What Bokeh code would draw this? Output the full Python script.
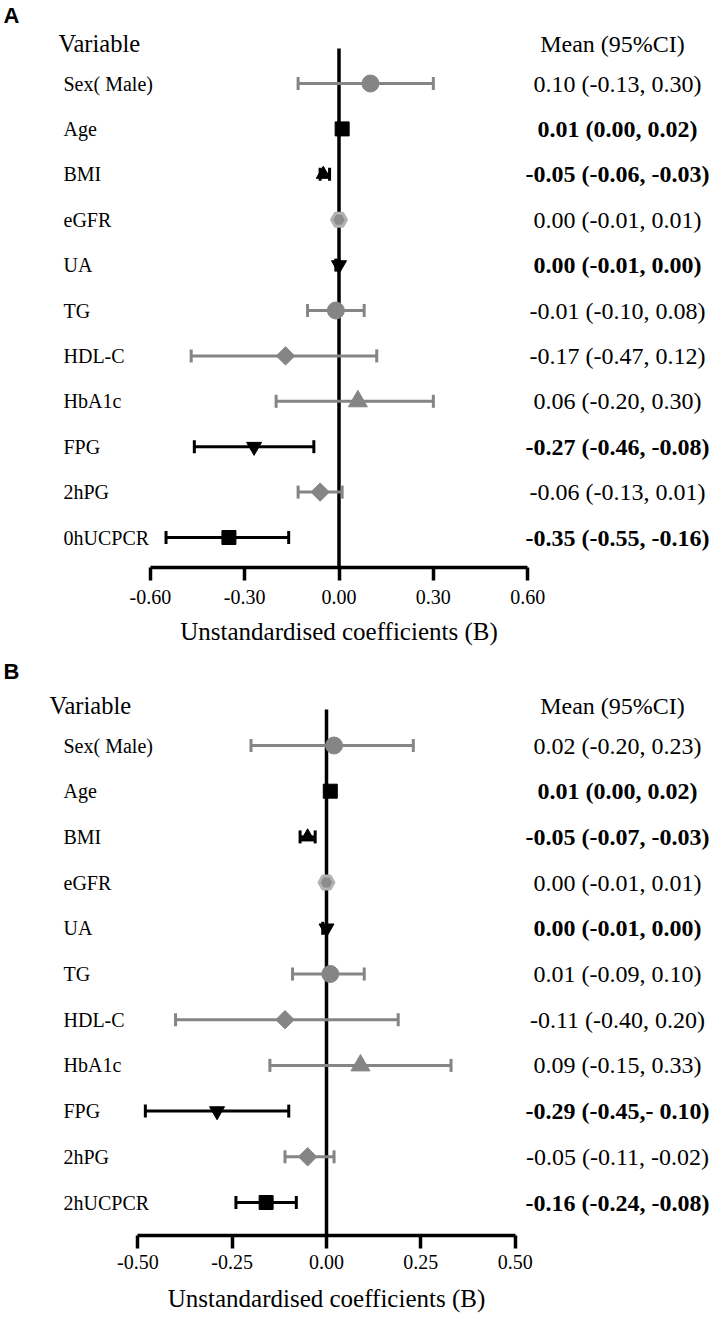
from bokeh.plotting import figure
from bokeh.models import ColumnDataSource, Range1d, LinearAxis, FixedTicker, NumeralTickFormatter
from bokeh.layouts import column
from bokeh.core.properties import value
from bokeh.embed import file_html
from bokeh.resources import INLINE

# ---------------- data ----------------
variables_a = ["Sex( Male)", "Age", "BMI", "eGFR", "UA", "TG", "HDL-C", "HbA1c", "FPG", "2hPG", "0hUCPCR"]
mean_a = [0.10, 0.01, -0.05, 0.00, 0.00, -0.01, -0.17, 0.06, -0.27, -0.06, -0.35]
lower_a = [-0.13, 0.00, -0.06, -0.01, -0.01, -0.10, -0.47, -0.20, -0.46, -0.13, -0.55]
upper_a = [0.30, 0.02, -0.03, 0.01, 0.00, 0.08, 0.12, 0.30, -0.08, 0.01, -0.16]
labels_a = ["0.10 (-0.13, 0.30)", "0.01 (0.00, 0.02)", "-0.05 (-0.06, -0.03)", "0.00 (-0.01, 0.01)",
            "0.00 (-0.01, 0.00)", "-0.01 (-0.10, 0.08)", "-0.17 (-0.47, 0.12)", "0.06 (-0.20, 0.30)",
            "-0.27 (-0.46, -0.08)", "-0.06 (-0.13, 0.01)", "-0.35 (-0.55, -0.16)"]
significant_a = [False, True, True, False, True, False, False, False, True, False, True]
ticks_a = [-0.60, -0.30, 0.00, 0.30, 0.60]

variables_b = ["Sex( Male)", "Age", "BMI", "eGFR", "UA", "TG", "HDL-C", "HbA1c", "FPG", "2hPG", "2hUCPCR"]
mean_b = [0.02, 0.01, -0.05, 0.00, 0.00, 0.01, -0.11, 0.09, -0.29, -0.05, -0.16]
lower_b = [-0.20, 0.00, -0.07, -0.01, -0.01, -0.09, -0.40, -0.15, -0.48, -0.11, -0.24]
upper_b = [0.23, 0.02, -0.03, 0.01, 0.00, 0.10, 0.19, 0.33, -0.10, 0.02, -0.08]
labels_b = ["0.02 (-0.20, 0.23)", "0.01 (0.00, 0.02)", "-0.05 (-0.07, -0.03)", "0.00 (-0.01, 0.01)",
            "0.00 (-0.01, 0.00)", "0.01 (-0.09, 0.10)", "-0.11 (-0.40, 0.20)", "0.09 (-0.15, 0.33)",
            "-0.29 (-0.45,- 0.10)", "-0.05 (-0.11, -0.02)", "-0.16 (-0.24, -0.08)"]
significant_b = [False, True, True, False, True, False, False, False, True, False, True]
ticks_b = [-0.50, -0.25, 0.00, 0.25, 0.50]

shapes = ["circle", "square", "triangle", "hex", "inverted_triangle", "circle",
          "diamond", "triangle", "inverted_triangle", "diamond", "square"]

# ---------------- style ----------------
SERIF = "Liberation Serif"
SANS = "Liberation Sans"
GRAY = "#858585"
W = 718


def marker_style(shape, sig):
    if shape == "circle":
        return "circle", 17, 0.0
    if shape == "square":
        return "square", 14, 0.0
    if shape == "triangle":
        return "triangle", (14 if sig else 19), 0.0
    if shape == "inverted_triangle":
        return "inverted_triangle", 15, 0.0
    if shape == "diamond":
        return "square", 13, 0.7853981634
    if shape == "hex":
        return "hex", 15, 0.0
    return "circle", 15, 0.0


def panel(letter, variables, means, lowers, uppers, labels, sig, ticks, height,
          zero_px, ppu, row0, step, header_px, var_px, vtop_px, axis_px,
          tick_standoff, title_standoff):
    n = len(variables)
    x_range = Range1d(-zero_px / ppu, (W - zero_px) / ppu)
    y_range = Range1d((height - row0) / step, -row0 / step)
    p = figure(width=W, height=height, x_range=x_range, y_range=y_range,
               output_backend="svg", toolbar_location=None,
               x_axis_location=None, y_axis_location=None, min_border=0)
    p.outline_line_color = None
    p.grid.visible = False
    p.background_fill_color = "white"
    p.border_fill_color = "white"

    def xd(px):
        return (px - zero_px) / ppu

    def yd(px):
        return (px - row0) / step

    rows = list(range(n))
    colors = ["black" if s else GRAY for s in sig]
    cap = 6.5 / step

    # zero reference line
    p.segment(x0=[0.0], y0=[yd(vtop_px)], x1=[0.0], y1=[yd(axis_px)], line_color="black", line_width=3.5)

    src = ColumnDataSource(dict(
        y=rows, m=means, lo=lowers, hi=uppers, c=colors,
        ylo=[r - cap for r in rows], yhi=[r + cap for r in rows],
        marker=[marker_style(s, g)[0] for s, g in zip(shapes, sig)],
        size=[marker_style(s, g)[1] for s, g in zip(shapes, sig)],
        angle=[marker_style(s, g)[2] for s, g in zip(shapes, sig)],
        fill=[("#8c8c8c" if s == "hex" else c) for s, c in zip(shapes, colors)],
        line=[("#b3b3b3" if s == "hex" else c) for s, c in zip(shapes, colors)],
        lw=[(3 if s == "hex" else 1) for s in shapes],
    ))
    p.segment(x0="lo", y0="y", x1="hi", y1="y", source=src, line_color="c", line_width=3)
    p.segment(x0="lo", y0="ylo", x1="lo", y1="yhi", source=src, line_color="c", line_width=3)
    p.segment(x0="hi", y0="ylo", x1="hi", y1="yhi", source=src, line_color="c", line_width=3)
    p.scatter(x="m", y="y", source=src, marker="marker", size="size", angle="angle",
              fill_color="fill", line_color="line", line_width="lw")

    # text columns
    tsrc = ColumnDataSource(dict(
        y=rows, var=variables, lab=labels,
        style=["bold" if s else "normal" for s in sig],
    ))
    p.text(x=xd(63), y="y", text="var", source=tsrc, text_font=value(SERIF),
           text_font_size="20px", text_baseline="middle", text_align="left", text_color="black")
    p.text(x=xd(617), y="y", text="lab", source=tsrc, text_font=value(SERIF),
           text_font_size="24px", text_baseline="middle", text_align="center",
           text_font_style="style", text_color="black")
    p.text(x=[xd(var_px)], y=[yd(header_px)], text=["Variable"], text_font=value(SERIF),
           text_font_size="24.5px", text_baseline="middle", text_align="left", text_color="black")
    p.text(x=[xd(612)], y=[yd(header_px)], text=["Mean (95%CI)"], text_font=value(SERIF),
           text_font_size="24px", text_baseline="middle", text_align="center", text_color="black")
    p.text(x=[xd(3)], y=[yd(15)], text=[letter], text_font=value(SANS), text_font_style="bold",
           text_font_size="22px", text_baseline="middle", text_align="left", text_color="black")

    ax = LinearAxis(fixed_location=yd(axis_px), bounds=(ticks[0], ticks[-1]),
                    ticker=FixedTicker(ticks=ticks, minor_ticks=[]),
                    formatter=NumeralTickFormatter(format="0.00"),
                    axis_label="Unstandardised coefficients (B)")
    ax.axis_line_width = 3.5
    ax.major_tick_line_width = 3.5
    ax.major_tick_out = 13
    ax.major_tick_in = 0
    ax.minor_tick_line_color = None
    ax.major_label_text_font = SERIF
    ax.major_label_text_font_size = "20px"
    ax.major_label_text_color = "black"
    ax.major_label_standoff = tick_standoff
    ax.axis_label_text_font = SERIF
    ax.axis_label_text_font_size = "25px"
    ax.axis_label_text_font_style = "normal"
    ax.axis_label_text_color = "black"
    ax.axis_label_standoff = title_standoff
    p.add_layout(ax, "below")
    return p


pa = panel("A", variables_a, mean_a, lower_a, upper_a, labels_a, significant_a, ticks_a,
           height=656, zero_px=338.5, ppu=314.5, row0=83, step=45.4, header_px=43, var_px=58,
           vtop_px=48, axis_px=567, tick_standoff=9, title_standoff=11)
pb = panel("B", variables_b, mean_b, lower_b, upper_b, labels_b, significant_b, ticks_b,
           height=661, zero_px=326, ppu=377.4, row0=89, step=45.7, header_px=49, var_px=49,
           vtop_px=53, axis_px=579, tick_standoff=6, title_standoff=13)

layout = column(pa, pb, spacing=0)
open("out.html", "w").write(file_html(layout, INLINE))
